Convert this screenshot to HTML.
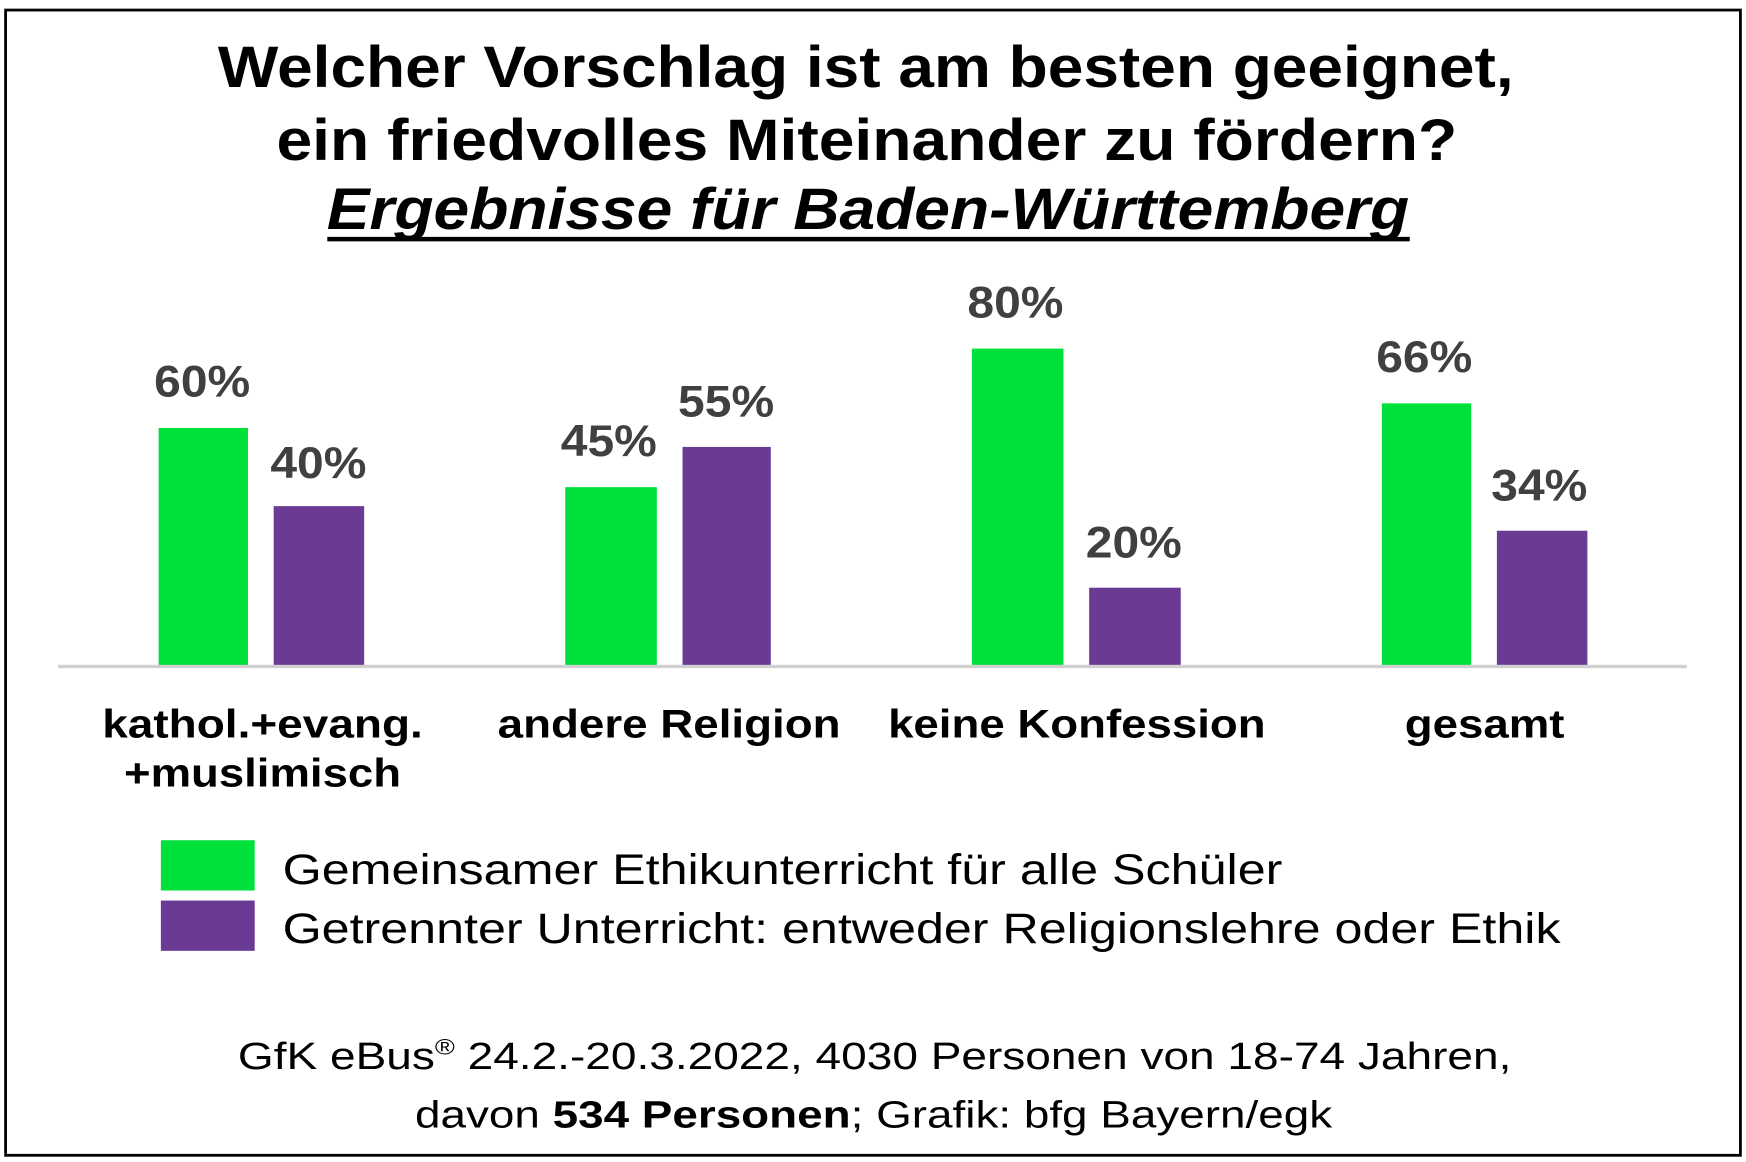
<!DOCTYPE html>
<html><head><meta charset="utf-8"><style>
html,body{margin:0;padding:0;background:#fff;}
svg{display:block;}
text{font-family:"Liberation Sans",Arial,sans-serif;}
</style></head><body>
<svg width="1746" height="1162" viewBox="0 0 1563 1040" preserveAspectRatio="none" xmlns="http://www.w3.org/2000/svg">
<rect x="0" y="0" width="1563" height="1040" fill="#fff"/>
<rect x="5" y="9" width="1553" height="1025" fill="none" stroke="#000" stroke-width="2.5"/>
<g font-weight="bold" fill="#000" font-size="52">
<text x="775" y="78" text-anchor="middle" textLength="1160" lengthAdjust="spacingAndGlyphs">Welcher Vorschlag ist am besten geeignet,</text>
<text x="776" y="143" text-anchor="middle" textLength="1057" lengthAdjust="spacingAndGlyphs">ein friedvolles Miteinander zu fördern?</text>
<text x="777" y="205" text-anchor="middle" font-style="italic" textLength="969" lengthAdjust="spacingAndGlyphs">Ergebnisse für Baden-Württemberg</text>
</g>
<rect x="293" y="212" width="969" height="4" fill="#000"/>
<g fill="#00e03a">
<rect x="142" y="383" width="80" height="213"/>
<rect x="506" y="436" width="82" height="160"/>
<rect x="870" y="312" width="82" height="284"/>
<rect x="1237" y="361" width="80" height="235"/>
</g>
<g fill="#6a3a94">
<rect x="245" y="453" width="81" height="143"/>
<rect x="611" y="400" width="79" height="196"/>
<rect x="975" y="526" width="82" height="70"/>
<rect x="1340" y="475" width="81" height="121"/>
</g>
<rect x="52" y="595" width="1458" height="3" fill="#d0d0d0"/>
<g font-weight="bold" fill="#404040" font-size="40" text-anchor="middle">
<text x="181" y="355" textLength="86" lengthAdjust="spacingAndGlyphs">60%</text>
<text x="285" y="428" textLength="86" lengthAdjust="spacingAndGlyphs">40%</text>
<text x="545" y="408" textLength="86" lengthAdjust="spacingAndGlyphs">45%</text>
<text x="650" y="373" textLength="86" lengthAdjust="spacingAndGlyphs">55%</text>
<text x="909" y="284" textLength="86" lengthAdjust="spacingAndGlyphs">80%</text>
<text x="1015" y="499" textLength="86" lengthAdjust="spacingAndGlyphs">20%</text>
<text x="1275" y="333" textLength="86" lengthAdjust="spacingAndGlyphs">66%</text>
<text x="1378" y="448" textLength="86" lengthAdjust="spacingAndGlyphs">34%</text>
</g>
<g font-weight="bold" fill="#000" font-size="36" text-anchor="middle">
<text x="235" y="660" textLength="287" lengthAdjust="spacingAndGlyphs">kathol.+evang.</text>
<text x="235" y="704" textLength="248" lengthAdjust="spacingAndGlyphs">+muslimisch</text>
<text x="599" y="660" textLength="307" lengthAdjust="spacingAndGlyphs">andere Religion</text>
<text x="964" y="660" textLength="338" lengthAdjust="spacingAndGlyphs">keine Konfession</text>
<text x="1329" y="660" textLength="143" lengthAdjust="spacingAndGlyphs">gesamt</text>
</g>
<rect x="144" y="752" width="84" height="45" fill="#00e03a"/>
<rect x="144" y="806" width="84" height="45" fill="#6a3a94"/>
<g fill="#000" font-size="38">
<text x="253" y="791" textLength="895" lengthAdjust="spacingAndGlyphs">Gemeinsamer Ethikunterricht  für alle Schüler</text>
<text x="253" y="844" textLength="1144" lengthAdjust="spacingAndGlyphs">Getrennter Unterricht: entweder  Religionslehre oder Ethik</text>
</g>
<g fill="#000" font-size="34" text-anchor="middle">
<text x="783" y="957" textLength="1140" lengthAdjust="spacingAndGlyphs">GfK eBus<tspan font-size="20" dy="-13">®</tspan><tspan dy="13"> 24.2.-20.3.2022, 4030 Personen von 18-74 Jahren,</tspan></text>
<text x="782" y="1009" textLength="821" lengthAdjust="spacingAndGlyphs">davon <tspan font-weight="bold">534 Personen</tspan>; Grafik: bfg Bayern/egk</text>
</g>
</svg>
</body></html>
